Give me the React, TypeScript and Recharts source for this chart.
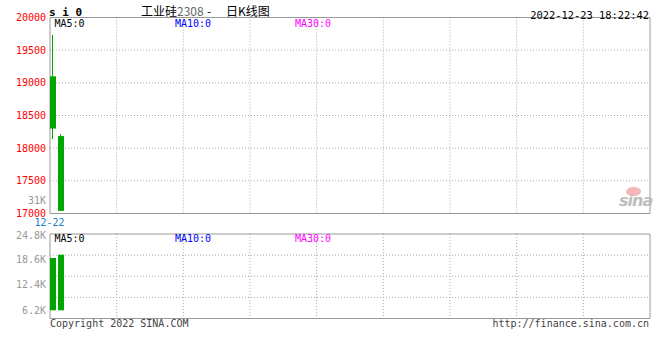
import React from "react"
import { Bar, CartesianGrid, Cell, ComposedChart, ReferenceArea, XAxis, YAxis } from "recharts"

// 工业硅2308 daily candles (only two sessions so far)
const dates = ["12-22", "12-23"]
const opens = [19100, 18185]
const highs = [19730, 18215]
const lows = [18145, 17035]
const closes = [18300, 17040]
const volumes = [18950, 19750]

const priceTicks = [17000, 17500, 18000, 18500, 19000, 19500, 20000]
const volumeTicks = [6200, 12400, 18600, 24800]
const volumeBase = 6200
const maxVolumeLabel = "31K"

const SLOTS = 75
const UP = "#ff0000"
const DOWN = "#00a600"
const GRID = "#aaaaaa"
const BORDER = "#999999"
const MONO = '"DejaVu Sans Mono", monospace'
const CJK = '"Noto Sans CJK SC", sans-serif'

const rows = dates.map((d, i) => ({
  slot: i,
  date: d,
  body: [Math.min(opens[i], closes[i]), Math.max(opens[i], closes[i])],
  vol: [volumeBase, volumes[i]],
  color: closes[i] >= opens[i] ? UP : DOWN,
}))

const xDomain: [number, number] = [-0.375, SLOTS - 0.375]

const vGrid = ({ offset }: any) =>
  Array.from({ length: 8 }, (_, k) => offset.left + ((k + 1) * offset.width) / 9)
const hGridVol = ({ offset }: any) =>
  [1, 2, 3].map((k) => offset.top + (k * offset.height) / 4)

// body comes from the bar geometry, the wick is extended with the same px/unit ratio
const Candle = (p: any) => {
  const i = p.index
  const [lo, hi] = rows[i].body
  const k = p.height / (hi - lo)
  const top = p.y - (highs[i] - hi) * k
  const bottom = p.y + p.height + (lo - lows[i]) * k
  const color = rows[i].color
  return (
    <g>
      <rect x={Math.floor(p.x) + 2} y={top} width={1} height={bottom - top} fill={color} shapeRendering="crispEdges" />
      <rect x={p.x} y={p.y} width={p.width} height={p.height} fill={color} />
    </g>
  )
}

function Label({ x, y, color = "#000", size = 10, anchor = "left", font = MONO, bold = false, children }: any) {
  const style: React.CSSProperties = {
    position: "absolute",
    top: y,
    color,
    fontSize: size,
    fontFamily: font,
    fontWeight: bold ? "bold" : "normal",
    lineHeight: 1,
    whiteSpace: "pre",
    transform: "translateY(-50%)",
  }
  if (anchor === "right") style.right = 660 - x
  else style.left = x
  return <div style={style}>{children}</div>
}

export default function App() {
  const cells = rows.map((r) => <Cell key={r.date} fill={r.color} />)
  return (
    <div style={{ position: "absolute", left: 0, top: 0, width: 660, height: 360, background: "#fff", overflow: "hidden" }}>
      <div style={{ position: "absolute", left: 0, top: 0 }}>
        <ComposedChart width={660} height={230} data={rows} margin={{ top: 17.5, right: 10, bottom: 0, left: 0 }}>
          <XAxis
            dataKey="slot"
            type="number"
            domain={xDomain}
            ticks={[0]}
            tickFormatter={(v) => dates[v]}
            height={16.5}
            axisLine={false}
            tickLine={false}
            tickSize={3}
            tickMargin={2}
            tick={{ fill: "#1c7cc4", fontSize: 10, fontFamily: MONO, dx: -3.5 }}
          />
          <YAxis
            domain={[17000, 20000]}
            ticks={priceTicks}
            width={50}
            axisLine={false}
            tickLine={false}
            tickSize={2}
            tickMargin={2}
            tick={{ fill: UP, fontSize: 10, fontFamily: MONO }}
          />
          <CartesianGrid stroke={GRID} strokeDasharray="1 2" verticalCoordinatesGenerator={vGrid} />
          <Bar dataKey="body" barSize={6} fill={DOWN} shape={Candle} isAnimationActive={false} />
          <ReferenceArea x1={xDomain[0]} x2={xDomain[1]} y1={17000} y2={20000} fill="none" stroke={BORDER} />
        </ComposedChart>
      </div>

      <div style={{ position: "absolute", left: 0, top: 230 }}>
        <ComposedChart width={660} height={100} data={rows} margin={{ top: 4, right: 10, bottom: 11.5, left: 0 }}>
          <XAxis dataKey="slot" type="number" domain={xDomain} hide />
          <YAxis
            domain={[4200, 24800]}
            ticks={volumeTicks}
            width={50}
            axisLine={false}
            tickLine={false}
            tickSize={2}
            tickMargin={2}
            tickFormatter={(v) => (v / 1000).toFixed(1) + "K"}
            tick={{ fill: "#999", fontSize: 10, fontFamily: MONO }}
          />
          <CartesianGrid
            stroke={GRID}
            strokeDasharray="1 2"
            verticalCoordinatesGenerator={vGrid}
            horizontalCoordinatesGenerator={hGridVol}
          />
          <Bar dataKey="vol" barSize={6} isAnimationActive={false}>
            {cells}
          </Bar>
          <ReferenceArea x1={xDomain[0]} x2={xDomain[1]} y1={4200} y2={24800} fill="none" stroke={BORDER} />
        </ComposedChart>
      </div>

      <Label x={49} y={11.7} size={11} bold>s i 0</Label>
      <Label x={141} y={11} size={12} font={CJK}>
        工业硅<span style={{ color: "#666" }}>2308</span>
      </Label>
      <Label x={207} y={11} size={12} font={CJK}>-</Label>
      <Label x={226} y={11} size={12} font={CJK}>日K线图</Label>
      <Label x={649} y={15} size={10.4} anchor="right">2022-12-23 18:22:42</Label>

      <Label x={54.5} y={23.5}>MA5:0</Label>
      <Label x={175} y={23.5} color="#0000ff">MA10:0</Label>
      <Label x={295} y={23.5} color="#ff00ff">MA30:0</Label>

      <Label x={46} y={200.5} color="#999" anchor="right">{maxVolumeLabel}</Label>

      <Label x={54.5} y={238.5}>MA5:0</Label>
      <Label x={175} y={238.5} color="#0000ff">MA10:0</Label>
      <Label x={295} y={238.5} color="#ff00ff">MA30:0</Label>

      <Label x={50} y={324} color="#444">Copyright 2022 SINA.COM</Label>
      <Label x={649} y={324} color="#444" anchor="right">http://finance.sina.com.cn</Label>

      <div style={{ position: "absolute", left: 626, top: 187, width: 15, height: 9, borderRadius: "50%", background: "#f4b6b6" }} />
      <Label x={619} y={201} size={16} color="#bdbdbd" bold font='"DejaVu Sans", sans-serif'>
        <span style={{ fontStyle: "italic", letterSpacing: -1 }}>sina</span>
      </Label>
    </div>
  )
}
